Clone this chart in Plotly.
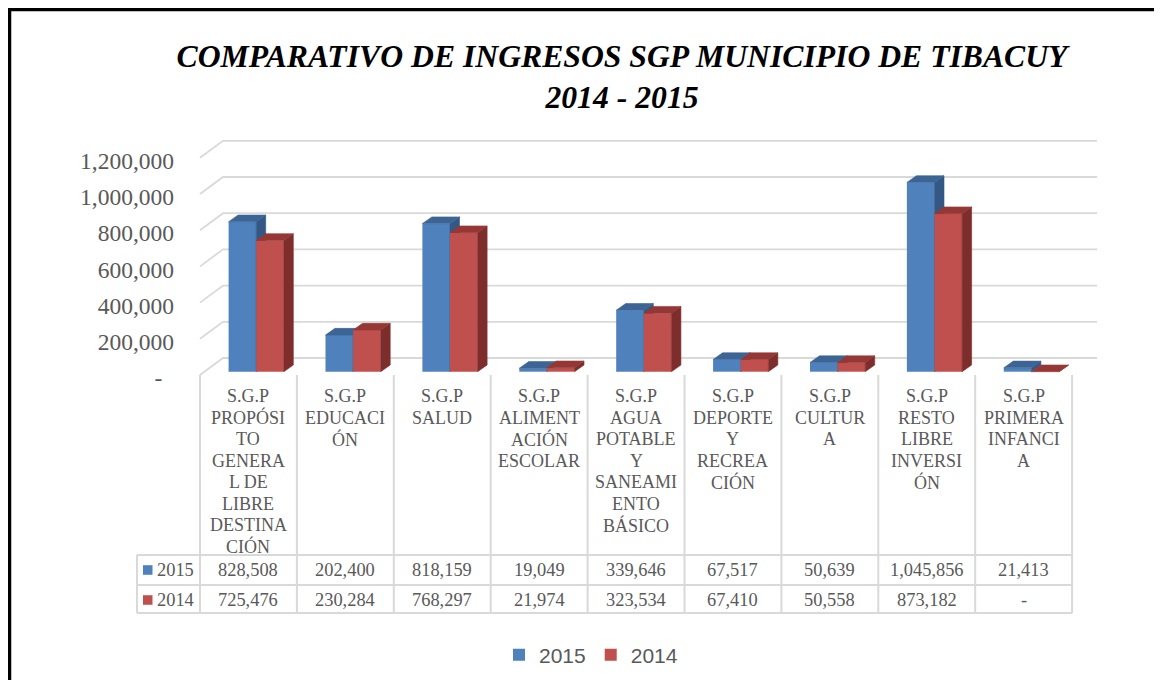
import plotly.graph_objects as go

# ---------------- data ----------------
categories = [
    "S.G.P<br>PROPÓSI<br>TO<br>GENERA<br>L DE<br>LIBRE<br>DESTINA<br>CIÓN",
    "S.G.P<br>EDUCACI<br>ÓN",
    "S.G.P<br>SALUD",
    "S.G.P<br>ALIMENT<br>ACIÓN<br>ESCOLAR",
    "S.G.P<br>AGUA<br>POTABLE<br>Y<br>SANEAMI<br>ENTO<br>BÁSICO",
    "S.G.P<br>DEPORTE<br>Y<br>RECREA<br>CIÓN",
    "S.G.P<br>CULTUR<br>A",
    "S.G.P<br>RESTO<br>LIBRE<br>INVERSI<br>ÓN",
    "S.G.P<br>PRIMERA<br>INFANCI<br>A",
]
series_names = ["2015", "2014"]
values_2015 = [828508, 202400, 818159, 19049, 339646, 67517, 50639, 1045856, 21413]
values_2014 = [725476, 230284, 768297, 21974, 323534, 67410, 50558, 873182, 0]
y_ticks = [0, 200000, 400000, 600000, 800000, 1000000, 1200000]
title_text = "COMPARATIVO DE INGRESOS SGP MUNICIPIO DE TIBACUY<br>2014 - 2015"

# ---------------- styles / geometry (page pixels) ----------------
PAGE_W, PAGE_H = 1162, 688
OFF = 8                                    # browser body margin
W, H = PAGE_W - 2 * OFF, PAGE_H - 2 * OFF  # figure size (fits the window without overflow)
COL0, COLW = 200.0, 96.9           # left edge of first table column, column width
PLOT_L, PLOT_R = 196.0, 1102.0
PLOT_T, PLOT_B = 118.0, 382.0
FRONT0 = 375.0                     # pixel y of value 0 on the front floor edge
BAR0 = 371.7                       # pixel y of value 0 on the bar front plane
K = 217.2 / 1.2e6                  # pixels per value unit
WALL_DX, WALL_DY = 23.0, 17.0      # depth offset of back wall
BAR_DX, BAR_DY = 9.5, 6.7          # depth of each bar
GRID_END = 1097.0
BAR_OFFSETS = [-0.205, 0.08]
BAR_W = 0.285
GRID_COLOR = "#d9d9d9"
TEXT_GRAY = "#595959"
SERIF = "Liberation Serif, Times New Roman, serif"
SANS = "Liberation Sans, Arial, sans-serif"
front_colors = ["#4f81bd", "#c0504d"]
top_colors = ["#3c6595", "#953835"]
side_colors = ["#345885", "#7d2e2c"]


def px(x):
    return (x - OFF) / W


def py(y):
    return 1 - (y - OFF) / H


def xdata(p):
    return (p - COL0) / COLW - 0.5


xrange_ = [xdata(PLOT_L), xdata(PLOT_R)]
yfront_range = [(FRONT0 - PLOT_B) / K, (FRONT0 - PLOT_T) / K]
ybar_range = [(BAR0 - PLOT_B) / K, (BAR0 - PLOT_T) / K]
dom_x = [px(PLOT_L), px(PLOT_R)]
dom_y = [py(PLOT_B), py(PLOT_T)]

fig = go.Figure()

# ---- back wall gridlines (front-coordinate system) ----
gx, gy = [], []
for v in y_ticks:
    gx += [xdata(COL0), xdata(COL0 + WALL_DX), xdata(GRID_END), None]
    gy += [v, v + WALL_DY / K, v + WALL_DY / K, None]
fig.add_trace(go.Scatter(x=gx, y=gy, mode="lines", line=dict(color=GRID_COLOR, width=1.8),
                         hoverinfo="skip", showlegend=False, xaxis="x", yaxis="y"))

# ---- 3D bars ----
dx = BAR_DX / COLW
dy = BAR_DY / K
all_series = [values_2015, values_2014]
axes = [("x2", "y2"), ("x3", "y3")]
idx = list(range(len(categories)))
for s, vals in enumerate(all_series):
    xa, ya = axes[s]
    off = BAR_OFFSETS[s]
    fig.add_trace(go.Bar(x=idx, y=vals, width=BAR_W, offset=off, name=series_names[s],
                         marker=dict(color=front_colors[s], line=dict(width=0)),
                         xaxis=xa, yaxis=ya, hoverinfo="skip"))
    tx, ty, sx, sy = [], [], [], []
    for i, v in enumerate(vals):
        x0 = i + off
        x1 = x0 + BAR_W
        tx += [x0, x0 + dx, x1 + dx, x1, x0, None]
        ty += [v, v + dy, v + dy, v, v, None]
        sx += [x1, x1, x1 + dx, x1 + dx, x1, None]
        sy += [0, v, v + dy, dy, 0, None]
    fig.add_trace(go.Scatter(x=sx, y=sy, mode="lines", fill="toself", fillcolor=side_colors[s],
                             line=dict(color=side_colors[s], width=0.6), hoverinfo="skip",
                             showlegend=False, xaxis=xa, yaxis=ya))
    fig.add_trace(go.Scatter(x=tx, y=ty, mode="lines", fill="toself", fillcolor=top_colors[s],
                             line=dict(color=top_colors[s], width=0.6), hoverinfo="skip",
                             showlegend=False, xaxis=xa, yaxis=ya))

# ---- axes ----
hidden_x = dict(range=xrange_, domain=dom_x, showgrid=False, zeroline=False,
                showticklabels=False, showline=False, ticks="", fixedrange=True)
fig.update_layout(
    xaxis=dict(**hidden_x, anchor="y"),
    yaxis=dict(range=yfront_range, domain=dom_y, anchor="x", showgrid=False, zeroline=False,
               showline=False, ticks="", tickmode="array", tickvals=y_ticks,
               ticktext=[f"{v:,}" if v else "-\u00a0\u00a0" for v in y_ticks],
               tickfont=dict(family=SERIF, size=23.5, color=TEXT_GRAY),
               ticklabelstandoff=21, ticklabelshift=3, automargin=False),
    xaxis2=dict(**hidden_x, anchor="y2", overlaying="x"),
    yaxis2=dict(range=ybar_range, domain=dom_y, anchor="x2", overlaying="y", visible=False),
    xaxis3=dict(**hidden_x, anchor="y3", overlaying="x"),
    yaxis3=dict(range=ybar_range, domain=dom_y, anchor="x3", overlaying="y", visible=False),
)

# ---- data table ----
shapes = []
annotations = []
TBL_LEFT = 137.0
TBL_RIGHT = COL0 + COLW * len(categories)
HEAD_TOP = 375.0
ROW_LINES = [555.0, 585.0, 613.0]
line_style = dict(color=GRID_COLOR, width=2)
for yl in ROW_LINES:
    shapes.append(dict(type="line", xref="paper", yref="paper", x0=px(TBL_LEFT), x1=px(TBL_RIGHT),
                       y0=py(yl), y1=py(yl), line=line_style))
shapes.append(dict(type="line", xref="paper", yref="paper", x0=px(TBL_LEFT), x1=px(TBL_LEFT),
                   y0=py(ROW_LINES[0]), y1=py(ROW_LINES[-1]), line=line_style))
for c in range(len(categories) + 1):
    xc = COL0 + COLW * c
    shapes.append(dict(type="line", xref="paper", yref="paper", x0=px(xc), x1=px(xc),
                       y0=py(HEAD_TOP), y1=py(ROW_LINES[-1]), line=line_style))

LINE0, LINE_STEP = 396.0, 21.5
for c, lab in enumerate(categories):
    xc = COL0 + COLW * (c + 0.5)
    for j, part in enumerate(lab.split("<br>")):
        annotations.append(dict(text=part, xref="paper", yref="paper", x=px(xc), y=py(LINE0 + LINE_STEP * j),
                                xanchor="center", yanchor="middle", showarrow=False,
                                font=dict(family=SERIF, size=18, color=TEXT_GRAY)))

row_centers = [570.0, 600.0]
for s, vals in enumerate(all_series):
    yc = row_centers[s]
    shapes.append(dict(type="rect", xref="paper", yref="paper", x0=px(143), x1=px(152.5),
                       y0=py(yc - 4.8), y1=py(yc + 4.8), fillcolor=front_colors[s], line=dict(width=0)))
    annotations.append(dict(text=series_names[s], xref="paper", yref="paper", x=px(154.5), y=py(yc),
                            xanchor="left", yanchor="middle", showarrow=False,
                            font=dict(family=SERIF, size=18.4, color=TEXT_GRAY)))
    for c, v in enumerate(vals):
        xc = COL0 + COLW * (c + 0.5)
        annotations.append(dict(text=f"{v:,}" if v else "-", xref="paper", yref="paper", x=px(xc), y=py(yc),
                                xanchor="center", yanchor="middle", showarrow=False,
                                font=dict(family=SERIF, size=18.4, color=TEXT_GRAY)))

# ---- outer black frame (left + top) ----
shapes.append(dict(type="line", xref="paper", yref="paper", x0=px(9.5), x1=px(9.5), y0=py(8), y1=0,
                   line=dict(color="black", width=3.5)))
shapes.append(dict(type="line", xref="paper", yref="paper", x0=px(8), x1=1, y0=py(9.5), y1=py(9.5),
                   line=dict(color="black", width=3.5)))

fig.update_layout(
    width=W, height=H,
    margin=dict(l=0, r=0, t=0, b=0),
    paper_bgcolor="white", plot_bgcolor="rgba(0,0,0,0)",
    barmode="overlay",
    title=dict(text=title_text, x=px(622), xanchor="center", y=py(67), yanchor="top",
               font=dict(family=SERIF, size=31.7, color="black", weight="bold", style="italic")),
    showlegend=True,
    legend=dict(orientation="h", x=px(591), xanchor="center", y=py(655), yanchor="middle",
                bgcolor="rgba(0,0,0,0)", font=dict(family=SANS, size=21, color=TEXT_GRAY),
                traceorder="normal"),
    shapes=shapes,
    annotations=annotations,
    hovermode=False,
)

fig.write_html("out.html")
